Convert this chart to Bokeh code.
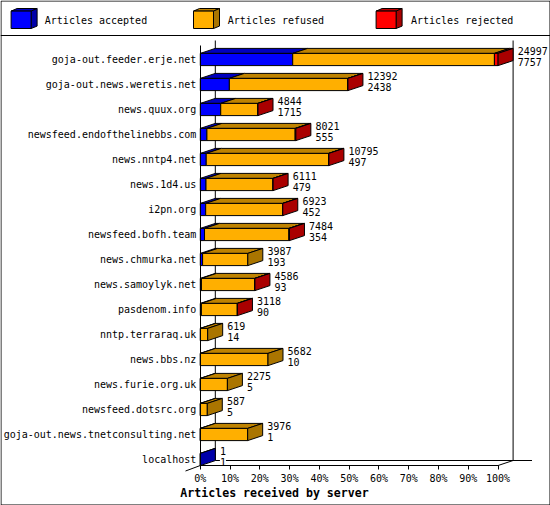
from bokeh.plotting import figure
from bokeh.models import Range1d, LinearAxis, FixedTicker, ColumnDataSource, InlineStyleSheet
from bokeh.core.properties import value
from bokeh.embed import file_html
from bokeh.resources import INLINE

servers = ["goja-out.feeder.erje.net", "goja-out.news.weretis.net", "news.quux.org",
           "newsfeed.endofthelinebbs.com", "news.nntp4.net", "news.1d4.us", "i2pn.org",
           "newsfeed.bofh.team", "news.chmurka.net", "news.samoylyk.net", "pasdenom.info",
           "nntp.terraraq.uk", "news.bbs.nz", "news.furie.org.uk", "newsfeed.dotsrc.org",
           "goja-out.news.tnetconsulting.net", "localhost"]
accepted = [7757, 2438, 1715, 555, 497, 479, 452, 354, 193, 93, 90, 14, 10, 5, 5, 1, 1]
refused = [16930, 9942, 3123, 7406, 10268, 5622, 6463, 7080, 3794, 4473, 3013, 605, 5672, 2270, 582, 3975, 0]
rejected = [310, 12, 6, 60, 30, 10, 8, 50, 0, 20, 15, 0, 0, 0, 0, 0, 0]
percent_ticks = [0, 10, 20, 30, 40, 50, 60, 70, 80, 90, 100]
legend_names = ["Articles accepted", "Articles refused", "Articles rejected"]
axis_title = "Articles received by server"

FRONT = ["#0000FF", "#FFAF00", "#FF0000"]
TOP = ["#0000BF", "#BF8300", "#BF0000"]
SIDE = ["#0000AA", "#AA7500", "#AA0000"]
MONO = "DejaVu Sans Mono"

W, H = 550, 505
PX_X0, PX_PER_PCT = 199.8, 2.978     # screen position of 0 %, pixels per percent
PX_Y0, PX_PER_ROW = 59.0, 25.0       # screen position of row 0, pixels per row


def dx(px):
    return (px - PX_X0) / PX_PER_PCT


def dy(px):
    return (px - PX_Y0) / PX_PER_ROW


DEPTH_X = 15 / PX_PER_PCT
DEPTH_Y = 5 / PX_PER_ROW
HALF = 6.1 / PX_PER_ROW

p = figure(width=W, height=H, output_backend="svg", toolbar_location=None,
           x_range=Range1d(dx(0), dx(W)), y_range=Range1d(dy(H), dy(0)),
           x_axis_type=None, y_axis_type=None, min_border=0,
           background_fill_color="white", border_fill_color="white",
           outline_line_color=None)
p.grid.visible = False
p.stylesheets.append(InlineStyleSheet(css="svg path, svg line, svg rect {shape-rendering: crispEdges;}"))

# page frame and legend separator
p.multi_line(xs=[[dx(.5), dx(549.5), dx(549.5), dx(.5), dx(.5)], [dx(0), dx(W)]],
             ys=[[dy(.5), dy(.5), dy(504.5), dy(504.5), dy(.5)], [dy(35), dy(35)]],
             line_color="black", line_width=1)

# back walls and floor
y_back_top, y_back_floor = dy(40), dy(460)
x_back_l, x_back_r = 15 / PX_PER_PCT, 100 + 15 / PX_PER_PCT
floor_y = dy(465)
p.multi_line(xs=[[x_back_l, x_back_l], [x_back_r, x_back_r], [x_back_l, dx(531.5)],
                 [dx(185), 0], [100, x_back_r]],
             ys=[[y_back_top, y_back_floor], [y_back_top, y_back_floor], [y_back_floor, y_back_floor],
                 [dy(470.5), floor_y], [floor_y, y_back_floor]],
             line_color="black", line_width=1)

# 3-D stacked bars: shares of the busiest server
totals = [a + r + j for a, r, j in zip(accepted, refused, rejected)]
max_total = max(totals)
xs, ys, fills = [], [], []
for row, counts in enumerate(zip(accepted, refused, rejected)):
    left = 0.0
    last = 0
    t, b = row - HALF, row + HALF
    for k, c in enumerate(counts):
        if c == 0:
            continue
        right = left + c / max_total * 100
        xs.append([left, right, right + DEPTH_X, left + DEPTH_X])
        ys.append([t, t, t - DEPTH_Y, t - DEPTH_Y])
        fills.append(TOP[k])
        xs.append([left, right, right, left])
        ys.append([t, t, b, b])
        fills.append(FRONT[k])
        left = right
        last = k
    xs.append([left, left + DEPTH_X, left + DEPTH_X, left])
    ys.append([t, t - DEPTH_Y, b - DEPTH_Y, b])
    fills.append(SIDE[last])
p.patches(xs="xs", ys="ys", fill_color="fills", line_color="black", line_width=1,
          source=ColumnDataSource(dict(xs=xs, ys=ys, fills=fills)))

# legend swatches and texts
sw_x = [10.6, 193, 375.6]
sw_xs, sw_ys, sw_f = [], [], []
for k, x0 in enumerate(sw_x):
    x1 = x0 + 20
    sw_xs += [[dx(x0), dx(x1), dx(x1 + 6), dx(x0 + 6)], [dx(x1), dx(x1 + 6), dx(x1 + 6), dx(x1)],
              [dx(x0), dx(x1), dx(x1), dx(x0)]]
    sw_ys += [[dy(10.6), dy(10.6), dy(8), dy(8)], [dy(10.6), dy(8), dy(25.6), dy(28)],
              [dy(10.6), dy(10.6), dy(28), dy(28)]]
    sw_f += [TOP[k], SIDE[k], FRONT[k]]
p.patches(xs="xs", ys="ys", fill_color="f", line_color="black", line_width=1,
          source=ColumnDataSource(dict(xs=sw_xs, ys=sw_ys, f=sw_f)))
p.text(x=[dx(44.3), dx(227.3), dx(410.5)], y=[dy(20)] * 3, text=legend_names,
       text_font=value(MONO), text_font_size="10px", text_color="black",
       text_align="left", text_baseline="middle")

# value labels at the right of every bar
rows = list(range(len(servers)))
label_x = [t / max_total * 100 + DEPTH_X + 4.6 / PX_PER_PCT for t in totals]
p.text(x=label_x + label_x,
       y=[r - 9.0 / PX_PER_ROW for r in rows] + [r + 2.0 / PX_PER_ROW for r in rows],
       text=[str(t) for t in totals] + [str(a) for a in accepted],
       text_font=value(MONO), text_font_size="10px", text_color="black",
       text_align="left", text_baseline="middle", background_fill_color="white")

# axis title
p.text(x=[dx(274)], y=[dy(492)], text=[axis_title], text_font=value(MONO),
       text_font_style="bold", text_font_size="11.6px", text_color="black",
       text_align="center", text_baseline="middle")

# axes
xaxis = LinearAxis(ticker=FixedTicker(ticks=percent_ticks), fixed_location=floor_y, bounds=(0, 100),
                   major_label_overrides={t: f"{t}%" for t in percent_ticks},
                   major_tick_in=0, major_tick_out=4, minor_tick_line_color=None,
                   major_label_standoff=3, major_label_text_font=MONO,
                   major_label_text_font_size="10px", major_label_text_color="black",
                   axis_line_color="black", major_tick_line_color="black")
yaxis = LinearAxis(ticker=FixedTicker(ticks=rows), fixed_location=0, bounds=(dy(45), floor_y),
                   major_label_overrides=dict(zip(rows, servers)),
                   major_tick_in=0, major_tick_out=0, minor_tick_line_color=None,
                   major_label_standoff=4, major_label_text_font=MONO,
                   major_label_text_font_size="10px", major_label_text_color="black",
                   axis_line_color="black")
p.add_layout(xaxis, "below")
p.add_layout(yaxis, "left")

open("out.html", "w").write(file_html(p, INLINE))
